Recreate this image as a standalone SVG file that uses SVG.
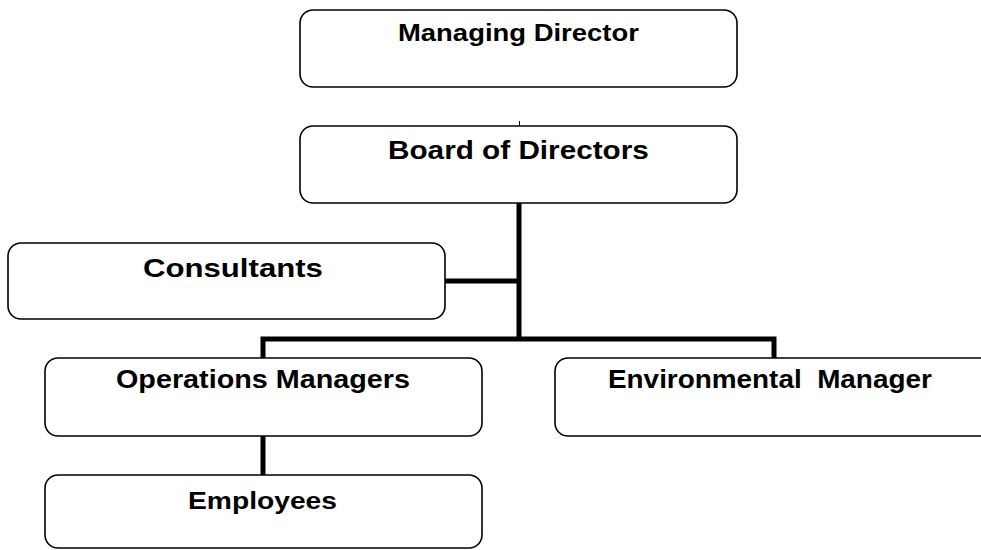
<svg xmlns="http://www.w3.org/2000/svg" width="981" height="550" viewBox="0 0 981 550">
  <style>
    .box { fill: #ffffff; stroke: #000000; stroke-width: 1.6; }
    .label { font-family: "Liberation Sans", Arial, sans-serif; font-weight: bold; font-size: 25px; fill: #000000; }
    .link { fill: none; stroke: #000000; stroke-width: 5; stroke-linecap: butt; stroke-linejoin: miter; }
  </style>
  <rect width="981" height="550" fill="#ffffff"/>

  <!-- connectors -->
  <g id="connectors">
    <line x1="519.5" y1="121" x2="519.5" y2="126" stroke="#000" stroke-width="1"/>
    <path class="link" d="M519,203 V339"/>
    <path class="link" d="M445,281 H519"/>
    <path class="link" d="M263,358 V339 H774 V358"/>
    <path class="link" d="M263,436 V475"/>
  </g>

  <!-- labels are set in a wide face: glyphs stretched horizontally -->
  <g id="managing-director">
    <rect class="box" x="300" y="10" width="437" height="77" rx="13"/>
    <text class="label" style="font-size:24px" transform="translate(398,41) scale(1.144,1)">Managing Director</text>
  </g>

  <g id="board-of-directors">
    <rect class="box" x="300" y="126" width="437" height="77" rx="13"/>
    <text class="label" transform="translate(388,159) scale(1.189,1)">Board of Directors</text>
  </g>

  <g id="consultants">
    <rect class="box" x="8" y="243" width="437" height="76" rx="13"/>
    <text class="label" transform="translate(143,277) scale(1.246,1)">Consultants</text>
  </g>

  <g id="operations-managers">
    <rect class="box" x="45" y="358" width="437" height="78" rx="13"/>
    <text class="label" transform="translate(116,388) scale(1.15,1)">Operations Managers</text>
  </g>

  <g id="environmental-manager">
    <rect class="box" x="555" y="358" width="460" height="78" rx="13"/>
    <text class="label" transform="translate(608,388) scale(1.116,1)" xml:space="preserve">Environmental  Manager</text>
  </g>

  <g id="employees">
    <rect class="box" x="45" y="475" width="437" height="73" rx="13"/>
    <text class="label" style="font-size:24px" transform="translate(188,509) scale(1.176,1)">Employees</text>
  </g>
</svg>
